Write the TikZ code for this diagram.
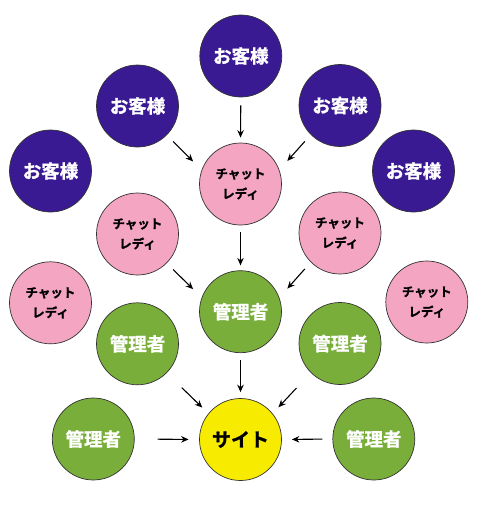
\documentclass[tikz,border=0pt]{standalone}
\usepackage{fontspec}
\setmainfont{Noto Sans CJK JP}[BoldFont={Noto Sans CJK JP Bold}, BoldFeatures={FakeBold=1.2}]
\usetikzlibrary{arrows.meta}
\definecolor{cpurple}{HTML}{3A1A92}
\definecolor{cpink}{HTML}{F4A5C1}
\definecolor{cgreen}{HTML}{7AAE3B}
\definecolor{cyellow}{HTML}{F7EC00}
\definecolor{cedge}{HTML}{333333}
\tikzset{
  ball/.style={circle, draw=cedge, line width=0.7pt, minimum size=82pt, inner sep=0pt, font=\bfseries},
  cust/.style={ball, fill=cpurple, text=white, font=\bfseries\fontsize{18.5}{20}\selectfont},
  chat/.style={ball, fill=cpink, text=black, align=center, font=\bfseries\fontsize{12.5}{20}\selectfont},
  admin/.style={ball, fill=cgreen, text=white, font=\bfseries\fontsize{18.5}{20}\selectfont},
  site/.style={ball, fill=cyellow, text=black, font=\bfseries\fontsize{19}{20}\selectfont},
  arr/.style={-{Stealth[length=7.5pt,width=6.5pt]}, line width=1.1pt, black},
}
\newcommand{\cl}{チャット\\レディ}
\begin{document}
\begin{tikzpicture}[x=1pt,y=-1pt]
\useasboundingbox (0,0) rectangle (480,509);
% customers
\node[cust] (c1) at (240.8,56) {お客様};
\node[cust] (c2) at (137.5,106) {お客様};
\node[cust] (c3) at (340,105.5) {お客様};
\node[cust] (c4) at (50.5,171) {お客様};
\node[cust] (c5) at (413.5,171) {お客様};
% chat ladies
\node[chat] (h1) at (240.5,184) {\cl};
\node[chat] (h2) at (137.5,234) {\cl};
\node[chat] (h3) at (340,233) {\cl};
\node[chat] (h4) at (50.5,302.8) {\cl};
\node[chat] (h5) at (426.8,302) {\cl};
% admins
\node[admin] (a1) at (240.5,311.7) {管理者};
\node[admin] (a2) at (137.5,343.8) {管理者};
\node[admin] (a3) at (340,343.5) {管理者};
\node[admin] (a4) at (93.3,439) {管理者};
\node[admin] (a5) at (373.8,439) {管理者};
% site
\node[site] (s) at (240.5,439.5) {サイト};
% arrows
\draw[arr, shorten <=8pt, shorten >=5pt] (c1.south) -- (h1.north);
\draw[arr, shorten <=9pt, shorten >=12pt] (c2.-45) -- (h1.160);
\draw[arr, shorten <=9pt, shorten >=12pt] (c3.-135) -- (h1.20);
\draw[arr, shorten <=7pt, shorten >=5pt] (h1.south) -- (a1.north);
\draw[arr, shorten <=9pt, shorten >=12pt] (h2.-45) -- (a1.160);
\draw[arr, shorten <=9pt, shorten >=12pt] (h3.-135) -- (a1.20);
\draw[arr, shorten <=7pt, shorten >=6pt] (a1.south) -- (s.north);
\draw[arr, shorten <=21pt, shorten >=8.5pt] (a2.-45) -- (s.141);
\draw[arr, shorten <=21pt, shorten >=8.5pt] (a3.-135) -- (s.39);
\draw[arr, shorten <=23pt, shorten >=10.5pt] (a4.east) -- (s.west);
\draw[arr, shorten <=10pt, shorten >=10pt] (a5.west) -- (s.east);
\end{tikzpicture}
\end{document}
